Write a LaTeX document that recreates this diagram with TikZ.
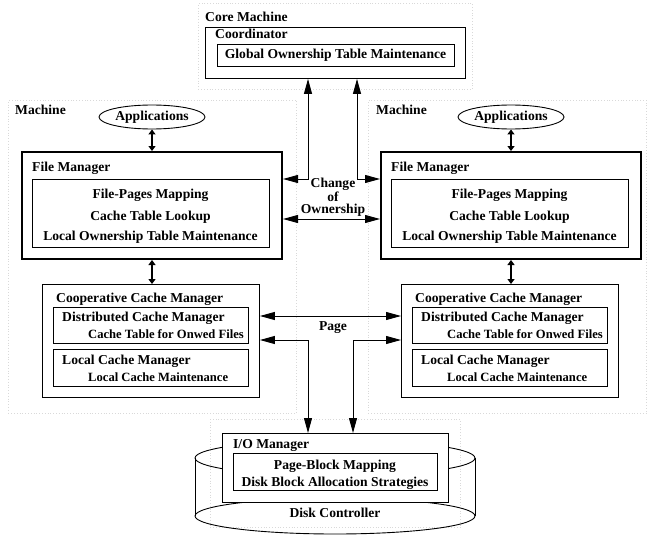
\documentclass[tikz,border=0pt]{standalone}
\usepackage{fontspec}
\setmainfont{Liberation Serif}
\usetikzlibrary{
  arrows.meta,
  positioning,
  calc,
  shapes.geometric
}

\begin{document}
\begin{tikzpicture}[
      x=1pt, y=-1pt,
      every node/.style={inner sep=0pt, font=\fontsize{13.6}{10}\selectfont\bfseries},
      region/.style={draw=black!15, dotted, line width=0.8pt, anchor=north west},
      mgr/.style={draw, line width=0.9pt, anchor=north west},
      mgrthick/.style={draw, line width=2pt, anchor=north west},
      app/.style={draw, ellipse, line width=0.9pt, minimum width=106pt, minimum height=24pt},
      label/.style={anchor=base west},
      centred/.style={anchor=base},
      small/.style={font=\fontsize{12.6}{10}\selectfont\bfseries},
      seta/.style={{Triangle[length=15pt,width=8pt]}-{Triangle[length=15pt,width=8pt]}, line width=0.9pt},
      short/.style={{Triangle[length=5pt,width=7pt]}-{Triangle[length=5pt,width=7pt]}, line width=1.4pt}
  ]
      \useasboundingbox (0,0) rectangle (647,535);

      % --- REGIONS ---
      \node[region, minimum width=274pt, minimum height=86pt] (coreR) at (198,3) {};
      \node[region, minimum width=288pt, minimum height=313pt] (mac1) at (8,100) {};
      \node[region, minimum width=278pt, minimum height=313pt] (mac2) at (368,100) {};
      \node[region, minimum width=250pt, minimum height=108pt] (dskR) at (210,419) {};

      % --- CORE MACHINE ---
      \node[label] (coreT) at (205,22) {Core Machine};
      \node[mgr, minimum width=260pt, minimum height=51pt] (coord) at (205,27) {};
      \node[label] (coordT) at (215,38) {Coordinator};
      \node[mgr, minimum width=237pt, minimum height=22pt] (got) at (217,44) {};
      \node[centred] (gotT) at (335.5,59) {Global Ownership Table Maintenance};

      % --- MACHINE 1 ---
      \begin{scope}[xshift=0pt]
          \node[label] (macT1) at (15,114) {Machine};
          \node[app] (app1) at (152,117) {Applications};
          \node[mgrthick, minimum width=260pt, minimum height=107pt] (fm1) at (21,151) {};
          \node[label] (fmT1) at (32,171) {File Manager};
          \node[mgr, minimum width=237pt, minimum height=68pt] (fmi1) at (32,179) {};
          \node[centred] (fmA1) at (150.5,198) {File-Pages Mapping};
          \node[centred] (fmB1) at (150.5,220) {Cache Table Lookup};
          \node[centred] (fmC1) at (150.5,240) {Local Ownership Table Maintenance};
          \node[mgr, minimum width=217pt, minimum height=113pt] (ccm1) at (42,284) {};
          \node[label] (ccmT1) at (56,302) {Cooperative Cache Manager};
          \node[mgr, minimum width=195pt, minimum height=36pt] (dcm1) at (53,307) {};
          \node[label] (dcmT1) at (62,321) {Distributed Cache Manager};
          \node[label, small] (dcmA1) at (88,338) {Cache Table for Onwed Files};
          \node[mgr, minimum width=195pt, minimum height=37pt] (lcm1) at (53,349) {};
          \node[label] (lcmT1) at (62,364) {Local Cache Manager};
          \node[label, small] (lcmA1) at (88,381) {Local Cache Maintenance};
          \draw[short] (app1.south) -- (app1.south |- fm1.north);
          \draw[short] (fm1.south -| app1) -- (ccm1.north -| app1);
      \end{scope}

      % --- MACHINE 2 ---
      \begin{scope}[xshift=359pt]
          \node[label] (macT2) at (17,114) {Machine};
          \node[app] (app2) at (152,117) {Applications};
          \node[mgrthick, minimum width=260pt, minimum height=107pt] (fm2) at (21,151) {};
          \node[label] (fmT2) at (32,171) {File Manager};
          \node[mgr, minimum width=237pt, minimum height=68pt] (fmi2) at (32,179) {};
          \node[centred] (fmA2) at (150.5,198) {File-Pages Mapping};
          \node[centred] (fmB2) at (150.5,220) {Cache Table Lookup};
          \node[centred] (fmC2) at (150.5,240) {Local Ownership Table Maintenance};
          \node[mgr, minimum width=217pt, minimum height=113pt] (ccm2) at (42,284) {};
          \node[label] (ccmT2) at (56,302) {Cooperative Cache Manager};
          \node[mgr, minimum width=195pt, minimum height=36pt] (dcm2) at (53,307) {};
          \node[label] (dcmT2) at (62,321) {Distributed Cache Manager};
          \node[label, small] (dcmA2) at (88,338) {Cache Table for Onwed Files};
          \node[mgr, minimum width=195pt, minimum height=37pt] (lcm2) at (53,349) {};
          \node[label] (lcmT2) at (62,364) {Local Cache Manager};
          \node[label, small] (lcmA2) at (88,381) {Local Cache Maintenance};
          \draw[short] (app2.south) -- (app2.south |- fm2.north);
          \draw[short] (fm2.south -| app2) -- (ccm2.north -| app2);
      \end{scope}

      % --- DISK ---
      \draw[line width=0.9pt] (335,458) ellipse [x radius=140, y radius=18];
      \draw[line width=0.9pt] (335,516) ellipse [x radius=140, y radius=18];
      \draw[line width=0.9pt] (195,458) -- (195,516) (475,458) -- (475,516);
      \node[mgr, fill=white, minimum width=226pt, minimum height=69pt] (io) at (222,433) {};
      \node[label] (ioT) at (233,448) {I/O Manager};
      \node[mgr, minimum width=204pt, minimum height=37pt] (ioi) at (233,453) {};
      \node[centred] (ioA) at (335,469) {Page-Block Mapping};
      \node[centred] (ioB) at (335,486) {Disk Block Allocation Strategies};
      \node[centred] (dskT) at (335,517) {Disk Controller};

      % --- OWNERSHIP ---
      \coordinate (ownL) at (308,179);
      \coordinate (ownR) at (357,179);
      \coordinate (chg) at (330,219);
      \draw[seta] (coord.south -| ownL) |- (fm1.east |- ownL);
      \draw[seta] (coord.south -| ownR) |- (fm2.west |- ownR);
      \draw[seta] (fm1.east |- chg) -- (fm2.west |- chg);
      \node[anchor=south, align=center, font=\fontsize{13.6}{12.5}\selectfont\bfseries] (chgT) at (333,217) {Change\\of\\Ownership};

      % --- PAGES ---
      \coordinate (pg) at (330,316);
      \coordinate (ioL) at (308,340);
      \coordinate (ioR) at (353,340);
      \draw[seta] (ccm1.east |- pg) -- (ccm2.west |- pg);
      \node[centred] (pgT) at (333,330) {Page};
      \draw[seta] (ccm1.east |- ioL) -| (io.north -| ioL);
      \draw[seta] (ccm2.west |- ioR) -| (io.north -| ioR);

  \end{tikzpicture}
\end{document}
